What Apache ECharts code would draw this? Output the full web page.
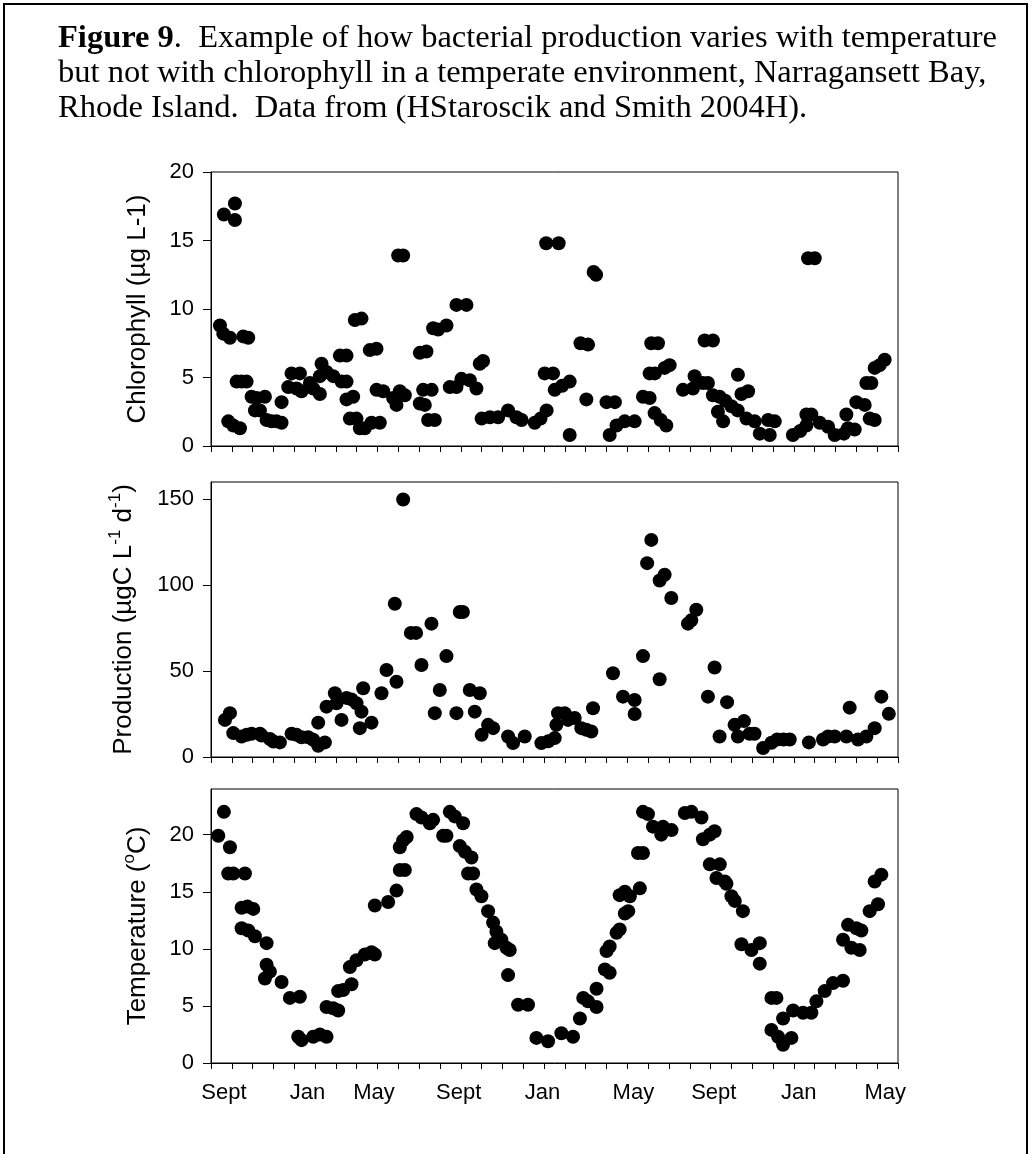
<!DOCTYPE html>
<html>
<head>
<meta charset="utf-8">
<script src="https://cdn.jsdelivr.net/npm/echarts@6/dist/echarts.min.js"></script>
<style>
html,body{margin:0;padding:0;background:#fff;}
#chart{width:1035px;height:1154px;}
</style>
</head>
<body>
<div id="chart"></div>
<script>
// x values are months from the start of the axis (first tick = start of Aug, year 1)
const xTickLabels = ['Sept','Jan','May','Sept','Jan','May','Sept','Jan','May'];
const xTickLabelPos = [0.62, 4.64, 7.83, 11.9, 15.92, 20.29, 24.15, 28.23, 32.39];

const chlorophyll = [
[0.43,8.8],[0.59,8.2],[0.62,16.9],[0.91,7.9],[0.83,1.8],[1.07,1.5],[1.15,17.7],[1.15,16.5],[1.39,1.3],[1.23,4.7],[1.47,4.7],[1.71,4.7],[1.55,8.0],[1.79,7.9],
[1.95,3.6],[2.19,3.5],[2.11,2.6],[2.35,2.6],[2.59,3.6],[2.67,1.9],[2.91,1.8],[3.15,1.8],[3.39,1.7],[3.39,3.2],[3.71,4.3],[3.87,5.3],[4.27,5.3],[4.11,4.2],[4.35,4.0],[4.75,4.6],[4.91,4.2],[5.23,3.8],[5.23,5.1],[5.31,6.0],[5.55,5.4],[5.87,5.1],
[6.19,6.6],[6.51,6.6],[6.27,4.7],[6.51,4.7],[6.51,3.4],[6.83,3.6],[6.67,2.0],[6.99,2.0],[7.15,1.3],[7.39,1.3],[6.91,9.2],[7.23,9.3],[7.63,7.0],[7.95,7.1],[7.71,1.7],[8.11,1.7],[7.95,4.1],[8.27,4.0],
[8.75,3.5],[8.91,3.0],[8.99,13.9],[9.23,13.9],[9.07,4.0],[9.31,3.7],[10.03,3.1],[10.27,3.0],[10.03,6.8],[10.35,6.9],[10.19,4.1],[10.6,4.1],[10.43,1.9],[10.75,1.9],[10.67,8.6],[10.91,8.5],[11.31,8.8],[11.47,4.3],[11.79,4.3],[11.79,10.3],[12.27,10.3],[12.03,4.9],[12.43,4.8],[12.75,4.2],[12.91,6.0],[13.07,6.2],[13.0,2.0],[13.4,2.1],[13.79,2.1],
[14.27,2.6],[14.67,2.1],[14.92,1.9],[15.55,1.7],[15.83,2.0],[16.12,2.6],[16.03,5.3],[16.43,5.3],[16.1,14.8],[16.7,14.8],[16.51,4.1],[16.87,4.4],[17.23,4.7],[17.23,0.8],[17.75,7.5],[18.11,7.4],[18.38,12.7],[18.5,12.5],[18.03,3.4],[19.0,3.2],[19.4,3.2],[19.15,0.8],[19.48,1.5],[19.87,1.8],[20.35,1.8],
[20.75,3.6],[21.07,3.5],[21.07,5.3],[21.32,5.3],[21.15,7.5],[21.47,7.5],[21.31,2.4],[21.6,1.9],[21.87,1.5],[21.79,5.7],[22.03,5.9],
[22.67,4.1],[23.15,4.2],[23.23,5.1],[23.63,4.6],[23.87,4.6],[23.71,7.7],[24.11,7.7],[24.11,3.7],[24.43,3.6],[24.35,2.5],[24.6,1.8],[24.7,3.3],[25.0,2.9],[25.3,2.6],[25.31,5.2],[25.48,3.8],[25.8,4.0],[25.72,2.0],[26.12,1.8],[26.36,0.9],[26.84,0.8],[26.76,1.9],[27.08,1.8],
[27.95,0.8],[28.3,1.1],[28.6,1.5],[28.6,2.3],[28.84,2.3],[28.68,13.7],[29.0,13.7],[29.24,1.7],[29.64,1.4],[29.96,0.8],[30.4,0.9],[30.6,1.3],[30.52,2.3],[30.92,1.2],[31.0,3.2],[31.4,3.0],[31.48,4.6],[31.72,4.6],[31.64,2.0],[31.88,1.9],[31.88,5.7],[32.12,5.9],[32.36,6.3]
];

const production = [
[0.67,21.6],[0.91,25.5],[1.07,13.9],[1.47,11.9],[1.71,12.9],[1.95,13.5],[2.35,13.5],[2.43,12.5],
[2.83,10.5],[3.0,9.0],[3.31,8.5],[3.87,13.5],[4.11,12.9],[4.35,11.5],[4.67,11.5],[4.91,10.0],[5.15,6.5],[5.15,20.0],[5.47,8.5],[5.55,29.3],[5.95,37.1],[6.03,31.3],[6.27,21.6],[6.51,34.4],[6.75,33.5],[6.99,31.3],[7.15,16.8],[7.23,26.4],[7.31,40.0],[7.71,20.0],[8.19,37.1],[8.43,50.6],[8.83,89.2],[8.91,43.8],[9.23,149.8],[9.6,72.2],[9.85,72.2],[10.11,53.5],[10.59,77.6],[10.75,25.5],[10.99,39.0],[11.31,58.7],[11.79,25.5],[11.95,84.4],[12.1,84.4],[12.43,39.0],[12.67,26.4],[12.91,37.1],[13.0,12.9],[13.31,18.7],[13.55,16.8],
[14.27,11.9],[14.51,8.1],[15.07,11.9],[15.87,8.1],[16.2,9.1],[16.51,11.0],[16.59,18.7],[16.67,25.5],[16.99,25.5],[17.15,21.6],[17.47,22.7],[17.79,16.8],[18.03,15.8],[18.27,14.8],[18.35,28.4],[19.31,48.7],[19.79,35.1],[20.35,33.2],[20.35,25.0],[20.75,58.7],[20.95,112.8],[21.15,126.3],[21.55,45.2],[21.55,102.7],[21.79,106.0],[22.11,92.5],[22.91,77.6],[23.07,79.5],[23.31,85.7],[23.87,35.1],[24.19,52.1],[24.43,11.9],[24.79,31.9],[25.15,18.7],[25.31,11.9],[25.6,20.9],[25.87,13.5],[26.11,13.5],[26.52,5.2],[26.92,8.3],[27.2,10.2],[27.5,10.2],[27.8,10.2],[28.72,8.5],[29.4,10.2],[29.64,11.9],[29.96,11.9],[30.52,11.9],[30.68,28.7],[31.08,10.2],[31.48,11.9],[31.88,16.8],[32.2,35.1],[32.56,25.1]
];

const temperature = [
[0.35,19.9],[0.62,22.0],[0.91,18.9],[0.83,16.6],[1.07,16.6],[1.63,16.6],[1.47,13.6],[1.75,13.7],[2.03,13.5],[1.47,11.8],[1.79,11.6],[2.11,11.1],[2.67,10.5],[2.67,8.6],[2.83,8.0],[2.59,7.4],[3.39,7.1],[3.79,5.7],[4.27,5.8],[4.19,2.3],[4.35,2.0],[4.91,2.3],[5.23,2.5],[5.55,2.3],[5.55,4.9],[5.87,4.8],[6.11,4.6],[6.11,6.3],[6.35,6.4],[6.75,6.9],[6.67,8.4],[6.99,9.0],[7.39,9.5],[7.71,9.7],[7.87,9.5],[7.87,13.8],[8.51,14.1],[8.91,15.1],[9.07,16.9],[9.31,16.9],[9.07,18.9],[9.23,19.5],[9.4,19.8],[9.87,21.8],[10.11,21.5],[10.51,21.0],[10.67,21.3],[11.15,19.9],[11.31,19.9],[11.47,22.0],[11.71,21.6],[12.11,21.0],[11.95,19.0],[12.2,18.5],[12.51,18.0],[12.35,16.6],[12.59,16.6],[12.75,15.2],[12.99,14.6],[13.31,13.3],[13.55,12.3],[13.71,11.5],[13.63,10.5],
[13.95,10.8],[14.19,10.1],[14.35,9.9],[14.27,7.7],[14.75,5.1],[15.23,5.1],[15.63,2.2],[16.19,1.9],[16.83,2.6],[17.39,2.3],[17.72,3.9],[17.88,5.7],[18.11,5.4],[18.52,4.9],[18.52,6.5],[18.92,8.2],[19.15,7.9],[19.0,9.8],[19.15,10.2],[19.48,11.4],[19.63,11.7],[19.88,13.1],[20.04,13.3],[19.63,14.7],[19.88,15.0],[20.12,14.6],[20.6,15.3],[20.51,18.4],[20.75,18.4],[20.75,22.0],[20.99,21.8],[21.23,20.7],[21.63,20.0],[21.71,20.7],[22.12,20.4],[22.76,21.9],[23.08,22.0],[23.56,21.5],[23.63,19.6],[23.96,20.0],[24.19,20.3],[23.96,17.4],[24.44,17.4],[24.28,16.2],[24.68,15.9],[24.76,15.7],[25.0,14.6],[25.16,14.2],[25.55,13.3],[25.48,10.4],[25.96,9.9],[26.36,10.5],[26.36,8.7],[26.92,5.7],[27.16,5.7],[26.92,2.9],[27.24,2.3],[27.48,1.6],[27.88,2.2],[27.48,3.9],[27.96,4.6],[28.44,4.4],[28.84,4.4],[29.08,5.4],[29.48,6.3],[29.88,7.0],[30.36,7.2],[30.36,10.8],[30.76,10.1],[31.16,9.9],[30.6,12.1],[31.0,11.8],[31.24,11.6],[31.64,13.3],[32.04,13.9],[31.88,15.9],[32.2,16.5]
];

const chlTicks = [0, 5, 10, 15, 20];
const prodTicks = [0, 50, 100, 150];
const tempTicks = [0, 5, 10, 15, 20];

const SANS = '"Liberation Sans", Arial, sans-serif';
const SERIF = '"Liberation Serif", "Times New Roman", serif';

const chart = echarts.init(document.getElementById('chart'), null, {renderer: 'canvas'});

const gridBase = {left: 211, width: 687, show: true, borderColor: '#000', borderWidth: 1, backgroundColor: 'transparent'};
const grids = [
  Object.assign({top: 172, height: 274}, gridBase),
  Object.assign({top: 482, height: 275}, gridBase),
  Object.assign({top: 789, height: 274}, gridBase)
];

function xAxisFor(i) {
  return {
    type: 'value', gridIndex: i, min: 0, max: 33, interval: 1,
    axisLine: {show: true, lineStyle: {color: '#000', width: 1}},
    axisTick: {show: true, inside: false, length: 6, lineStyle: {color: '#000', width: 1}},
    splitLine: {show: false},
    axisLabel: i === 2 ? {
      show: true, customValues: xTickLabelPos, margin: 19,
      fontFamily: SANS, fontSize: 22, color: '#000',
      formatter: function (v) { const k = xTickLabelPos.indexOf(v); return k >= 0 ? xTickLabels[k] : ''; }
    } : {show: false}
  };
}

const nameStyle = {
  fontFamily: SANS, fontSize: 26, color: '#000', lineHeight: 34,
  rich: {
    m: {fontFamily: SANS, fontSize: 26, color: '#000', lineHeight: 34},
    s: {fontFamily: SANS, fontSize: 17, color: '#000', lineHeight: 18, verticalAlign: 'top'}
  }
};

function yAxisFor(i, max, ticks, name, gap) {
  return {
    type: 'value', gridIndex: i, min: 0, max: max,
    name: name, nameLocation: 'middle', nameGap: gap, nameRotate: 90,
    nameTextStyle: nameStyle,
    axisLine: {show: true, lineStyle: {color: '#000', width: 1}},
    axisTick: {show: true, inside: false, length: 8, customValues: ticks, lineStyle: {color: '#000', width: 1}},
    axisLabel: {show: true, customValues: ticks, margin: 17, fontFamily: SANS, fontSize: 22, color: '#000'},
    splitLine: {show: false}
  };
}

function scatter(i, data) {
  return {
    type: 'scatter', xAxisIndex: i, yAxisIndex: i, data: data,
    symbol: 'circle', symbolSize: 14, itemStyle: {color: '#000', opacity: 1},
    silent: true, animation: false
  };
}

chart.setOption({
  animation: false,
  backgroundColor: '#fff',
  title: {
    left: 58, top: 21, padding: 0,
    text: '{b|Figure 9}.  Example of how bacterial production varies with temperature\nbut not with chlorophyll in a temperate environment, Narragansett Bay,\nRhode Island.  Data from (HStaroscik and Smith 2004H).',
    textStyle: {
      fontFamily: SERIF, fontSize: 32.5, fontWeight: 'normal', color: '#000', lineHeight: 35,
      rich: {b: {fontFamily: SERIF, fontSize: 32.5, fontWeight: 'bold', color: '#000', lineHeight: 35}}
    }
  },
  graphic: [{
    type: 'rect', silent: true, z: 100,
    shape: {x: 4, y: 4, width: 1023, height: 1200},
    style: {fill: 'none', stroke: '#000', lineWidth: 2}
  }],
  grid: grids,
  xAxis: [xAxisFor(0), xAxisFor(1), xAxisFor(2)],
  yAxis: [
    yAxisFor(0, 20, chlTicks, 'Chlorophyll (µg L-1)', 56),
    yAxisFor(1, 160, prodTicks, '{m|Production (µgC L}{s|-1}{m| d}{s|-1}{m|)}', 70),
    yAxisFor(2, 24, tempTicks, '{m|Temperature (}{s|o}{m|C)}', 56)
  ],
  series: [scatter(0, chlorophyll), scatter(1, production), scatter(2, temperature)]
});
</script>
</body>
</html>
